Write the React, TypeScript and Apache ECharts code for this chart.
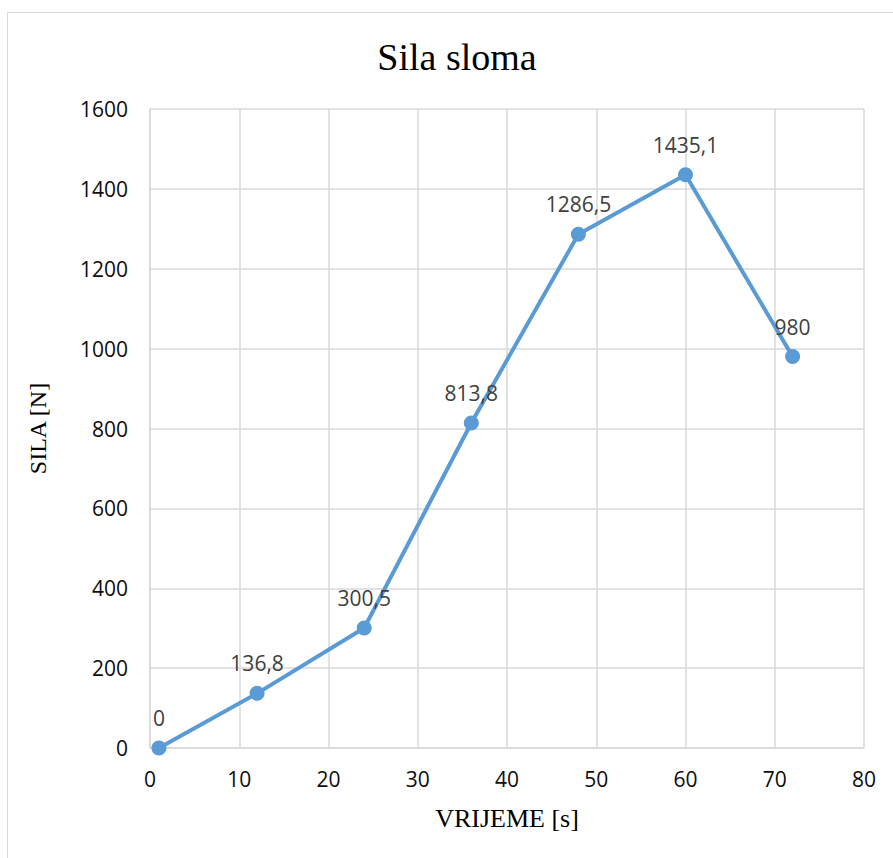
import React, { useEffect, useRef } from "react";
import * as echarts from "echarts";

const timeValues = [1, 12, 24, 36, 48, 60, 72];
const forceValues = [0, 136.8, 300.5, 813.8, 1286.5, 1435.1, 980];
const chartTitle = "Sila sloma";
const xName = "VRIJEME [s]";
const yName = "SILA [N]";

export default function App() {
  const ref = useRef<HTMLDivElement>(null);
  useEffect(() => {
    document.body.style.margin = "0";
    if (!ref.current) return;
    const chart = echarts.init(ref.current, null, { renderer: "svg" });
    const tickFont = { fontFamily: "Open Sans", fontSize: 21, color: "#0d0d0d" };
    chart.setOption({
      animation: false,
      backgroundColor: "#ffffff",
      title: {
        text: chartTitle,
        left: 452,
        top: 33,
        textAlign: "center",
        textStyle: { fontFamily: "Liberation Serif", fontSize: 38, fontWeight: "normal", color: "#000" },
      },
      graphic: [
        {
          type: "rect",
          shape: { x: 7.5, y: 12.5, width: 1000, height: 1000 },
          style: { fill: "none", stroke: "#d9d9d9", lineWidth: 1 },
          silent: true,
        },
      ],
      grid: { left: 150, top: 109, width: 714, height: 639, containLabel: false },
      xAxis: {
        type: "value",
        min: 0,
        max: 80,
        interval: 10,
        name: xName,
        nameLocation: "middle",
        nameGap: 57,
        nameTextStyle: { fontFamily: "Liberation Serif", fontSize: 26, color: "#000" },
        axisLine: { show: true, lineStyle: { color: "#d9d9d9", width: 1.5 } },
        axisTick: { show: false },
        axisLabel: { ...tickFont, margin: 20, formatter: (v: number) => String(v) },
        splitLine: { show: true, lineStyle: { color: "#d9d9d9", width: 1.5 } },
      },
      yAxis: {
        type: "value",
        min: 0,
        max: 1600,
        interval: 200,
        name: yName,
        nameLocation: "middle",
        nameGap: 100,
        nameTextStyle: { fontFamily: "Liberation Serif", fontSize: 24, color: "#000" },
        axisLine: { show: true, lineStyle: { color: "#d9d9d9", width: 1.5 } },
        axisTick: { show: false },
        axisLabel: { ...tickFont, margin: 22, formatter: (v: number) => String(v) },
        splitLine: { show: true, lineStyle: { color: "#d9d9d9", width: 1.5 } },
      },
      series: [
        {
          type: "line",
          data: timeValues.map((t, i) => [t, forceValues[i]]),
          symbol: "circle",
          symbolSize: 15,
          lineStyle: { color: "#5b9bd5", width: 4 },
          itemStyle: { color: "#5b9bd5" },
          label: {
            show: true,
            position: "top",
            distance: 12,
            fontFamily: "Open Sans",
            fontSize: 21,
            color: "#404040",
            formatter: (p: any) => String(p.value[1]).replace(".", ","),
          },
        },
      ],
    });
    return () => chart.dispose();
  }, []);
  return <div ref={ref} style={{ width: 893, height: 858 }} />;
}
